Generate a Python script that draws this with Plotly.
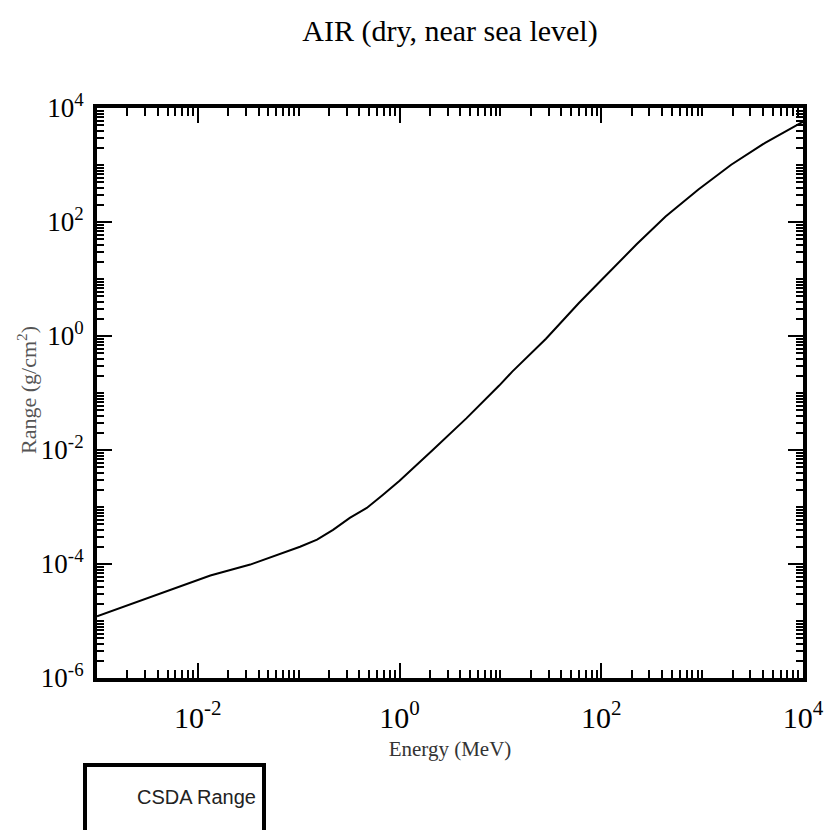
import plotly.graph_objects as go

# ---- data ----
energy_mev = [0.001, 0.0133, 0.0331, 0.0702, 0.103, 0.152, 0.219, 0.321, 0.473, 0.681,
              1.0, 2.12, 4.59, 9.72, 13.1, 28.3, 60.0, 94.4, 127.0, 224.0, 434.0, 918.0,
              1940.0, 4210.0, 9530.0, 10000.0]
csda_range = [1.21e-5, 6.28e-5, 9.77e-5, 1.58e-4, 2.01e-4, 2.67e-4, 3.98e-4, 6.45e-4,
              9.64e-4, 1.63e-3, 2.90e-3, 9.93e-3, 3.59e-2, 0.135, 0.237, 0.893, 3.80,
              8.60, 14.7, 40.6, 125.0, 371.0, 1010.0, 2450.0, 5470.0, 5700.0]

x_tickvals = [1e-2, 1e0, 1e2, 1e4]
x_ticktext = ["10<sup>-2</sup>", "10<sup>0</sup>", "10<sup>2</sup>", "10<sup>4</sup>"]
y_tickvals = [1e-6, 1e-4, 1e-2, 1e0, 1e2, 1e4]
y_ticktext = ["10<sup>-6</sup>", "10<sup>-4</sup>", "10<sup>-2</sup>",
              "10<sup>0</sup>", "10<sup>2</sup>", "10<sup>4</sup>"]

title_text = "AIR (dry, near sea level)"
x_title = "Energy (MeV)"
y_title = "Range (g/cm<sup>2</sup>)"
legend_text = "CSDA Range"


def minor_vals(d0, d1):
    vals = []
    for d in range(d0, d1):
        base = 10.0 ** d
        if d % 2 != 0:
            vals.append(base)
        for k in range(2, 10):
            vals.append(k * base)
    return vals


W, H = 827, 830
ML, MR, MT, MB = 97, 24, 108, 152

fig = go.Figure()
fig.add_trace(go.Scatter(x=energy_mev, y=csda_range, mode="lines",
                         line=dict(color="black", width=2), showlegend=False))

serif = "Liberation Serif"
axis_common = dict(
    type="log", showline=True, linewidth=4, linecolor="black", mirror="allticks",
    ticks="inside", ticklen=15, tickwidth=2, tickcolor="black",
    showgrid=False, zeroline=False, automargin=False,
)

fig.update_xaxes(range=[-3, 4], tickmode="array", tickvals=x_tickvals, ticktext=x_ticktext,
                 minor=dict(tickvals=minor_vals(-3, 4), ticks="inside", ticklen=8,
                            tickwidth=2, tickcolor="black", showgrid=False),
                 title=dict(text=x_title, font=dict(family=serif, size=21, color="#333"),
                            standoff=9),
                 tickfont=dict(family=serif, size=30, color="black"),
                 ticklabelstandoff=10,
                 **axis_common)
fig.update_yaxes(range=[-6, 4], tickmode="array", tickvals=y_tickvals, ticktext=y_ticktext,
                 minor=dict(tickvals=minor_vals(-6, 4), ticks="inside", ticklen=7,
                            tickwidth=2, tickcolor="black", showgrid=False),
                 tickfont=dict(family=serif, size=27, color="black"),
                 ticklabelstandoff=4,
                 **axis_common)

px = lambda v: (v - ML) / (W - ML - MR)
py = lambda v: (H - MB - v) / (H - MT - MB)

# y-axis title placed as rotated text close to the tick labels
fig.add_annotation(text=y_title, xref="paper", yref="paper",
                   x=px(27), y=py(390), xanchor="center", yanchor="middle",
                   textangle=-90, showarrow=False,
                   font=dict(family=serif, size=22, color="#555"))

# legend box drawn as a shape + text (as in the reference, no line sample visible)
fig.add_shape(type="rect", xref="paper", yref="paper",
              x0=px(85), x1=px(264), y0=py(840), y1=py(765),
              line=dict(color="black", width=4), fillcolor="white")
fig.add_annotation(text=legend_text, xref="paper", yref="paper",
                   x=px(258), y=py(797), xanchor="right", yanchor="middle",
                   showarrow=False,
                   font=dict(family="Liberation Sans", size=20, color="#222"))

fig.update_layout(
    width=W, height=H,
    margin=dict(l=ML, r=MR, t=MT, b=MB, autoexpand=False),
    paper_bgcolor="white", plot_bgcolor="white",
    title=dict(text=title_text, xref="paper", x=0.5, xanchor="center",
               yref="container", y=1 - 30 / H, yanchor="middle",
               font=dict(family=serif, size=30, color="black")),
)

fig.write_html("out.html")
